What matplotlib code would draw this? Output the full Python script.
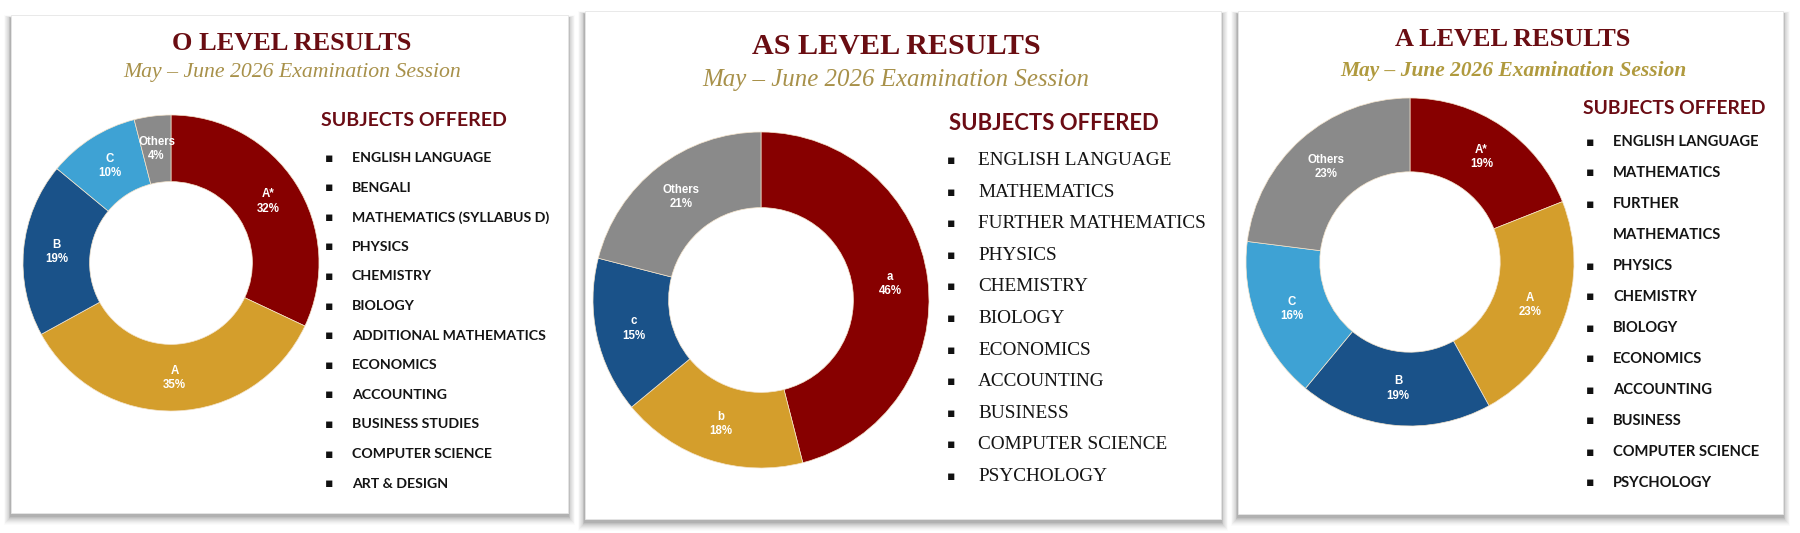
import matplotlib
matplotlib.use("Agg")
import matplotlib.pyplot as plt
from matplotlib.patches import Rectangle

# ---------------- data ----------------
o_grades = ["A*", "A", "B", "C", "Others"]
o_values = [32, 35, 19, 10, 4]
as_grades = ["a", "b", "c", "Others"]
as_values = [46, 18, 15, 21]
a_grades = ["A*", "A", "B", "C", "Others"]
a_values = [19, 23, 19, 16, 23]

o_subjects = ["ENGLISH LANGUAGE", "BENGALI", "MATHEMATICS (SYLLABUS D)", "PHYSICS",
              "CHEMISTRY", "BIOLOGY", "ADDITIONAL MATHEMATICS", "ECONOMICS",
              "ACCOUNTING", "BUSINESS STUDIES", "COMPUTER SCIENCE", "ART & DESIGN"]
as_subjects = ["ENGLISH LANGUAGE", "MATHEMATICS", "FURTHER MATHEMATICS", "PHYSICS",
               "CHEMISTRY", "BIOLOGY", "ECONOMICS", "ACCOUNTING", "BUSINESS",
               "COMPUTER SCIENCE", "PSYCHOLOGY"]
a_subjects = ["ENGLISH LANGUAGE", "MATHEMATICS", "FURTHER\nMATHEMATICS", "PHYSICS",
              "CHEMISTRY", "BIOLOGY", "ECONOMICS", "ACCOUNTING", "BUSINESS",
              "COMPUTER SCIENCE", "PSYCHOLOGY"]

titles = ["O LEVEL RESULTS", "AS LEVEL RESULTS", "A LEVEL RESULTS"]
subtitle = "May \u2013 June 2026 Examination Session"
heading = "SUBJECTS OFFERED"

# ---------------- style ----------------
RED = "#870000"
GOLD = "#d49e2c"
DBLUE = "#1a5289"
LBLUE = "#3ea2d4"
GRAY = "#8a8a8a"
o_colors = [RED, GOLD, DBLUE, LBLUE, GRAY]
as_colors = [RED, GOLD, DBLUE, GRAY]
a_colors = [RED, GOLD, DBLUE, LBLUE, GRAY]
TITLE_C = "#6a0d12"
SUB_C = "#a8914a"
HEAD_C = "#6b0c14"

W, H = 1800, 533
fig = plt.figure(figsize=(W / 100, H / 100), dpi=100)
fig.patch.set_facecolor("white")
bg = fig.add_axes([0, 0, 1, 1])
bg.set_xlim(0, W)
bg.set_ylim(H, 0)
bg.axis("off")
renderer = fig.canvas.get_renderer()


def fit(t, target):
    fs = t.get_fontsize()
    for _ in range(3):
        w = t.get_window_extent(renderer).width
        fs = fs * target / w
        t.set_fontsize(fs)
    return fs


panels = [
    dict(card=(11, 15, 568, 513), center=(171, 263), R=148,
         grades=o_grades, values=o_values, colors=o_colors, subjects=o_subjects,
         title_xy=(292, 44), title_w=239, sub_xy=(292, 73), sub_w=339, sub_bold=False,
         head_xy=(321, 121), head_w=186,
         bullet_x=329, text_x=352, y0=158, step=29.6, item_w=140,
         item_font="Lato", item_weight="bold"),
    dict(card=(585, 11, 1221, 519), center=(761, 300), R=168,
         grades=as_grades, values=as_values, colors=as_colors, subjects=as_subjects,
         title_xy=(896, 46), title_w=289, sub_xy=(896, 80), sub_w=386, sub_bold=False,
         head_xy=(949, 123), head_w=211,
         bullet_x=951, text_x=978, y0=160.5, step=31.6, item_w=193,
         item_font="Liberation Serif", item_weight="normal"),
    dict(card=(1238, 11, 1783, 514), center=(1410, 262), R=164,
         grades=a_grades, values=a_values, colors=a_colors, subjects=a_subjects,
         title_xy=(1513, 40), title_w=235, sub_xy=(1513, 71), sub_w=345, sub_bold=True,
         head_xy=(1583, 108), head_w=182,
         bullet_x=1590, text_x=1613, y0=142, step=31.0, item_w=145,
         item_font="Lato", item_weight="bold"),
]

for i, p in enumerate(panels):
    x0, y0c, x1, y1c = p["card"]
    # soft shadow
    for k, a in zip(range(9, 0, -1), [0.015, 0.02, 0.025, 0.03, 0.035, 0.04, 0.05, 0.06, 0.07]):
        bg.add_patch(Rectangle((x0 - k * 0.8, y0c - k * 0.3 + 3), (x1 - x0) + k * 1.6,
                               (y1c - y0c) + k * 1.3, facecolor="black", edgecolor="none",
                               alpha=a, zorder=1))
    bg.add_patch(Rectangle((x0, y0c), x1 - x0, y1c - y0c, facecolor="white",
                           edgecolor="#e6e6e6", linewidth=0.6, zorder=2))

    # titles
    t = bg.text(*p["title_xy"], titles[i], ha="center", va="center", fontsize=18,
                family="Liberation Serif", weight="bold", color=TITLE_C, zorder=3)
    fit(t, p["title_w"])
    s = bg.text(*p["sub_xy"], subtitle, ha="center", va="center", fontsize=14,
                family="Liberation Serif", style="italic",
                weight="bold" if p["sub_bold"] else "normal",
                color="#b09a3e" if p["sub_bold"] else SUB_C, zorder=3)
    fit(s, p["sub_w"])
    h = bg.text(p["head_xy"][0], p["head_xy"][1], heading, ha="left", va="center",
                fontsize=14, family="Lato", weight="bold", color=HEAD_C, zorder=3)
    fit(h, p["head_w"])

    # subject list
    probe = bg.text(0, 0, p["subjects"][0], fontsize=11, family=p["item_font"],
                    weight=p["item_weight"])
    ifs = fit(probe, p["item_w"])
    probe.remove()
    row = 0
    for subj in p["subjects"]:
        lines = subj.split("\n")
        for j, line in enumerate(lines):
            yy = p["y0"] + row * p["step"]
            if j == 0:
                bg.text(p["bullet_x"], yy, "\u25aa", ha="center", va="center",
                        fontsize=9, family="DejaVu Sans", color="#111111", zorder=3)
            bg.text(p["text_x"], yy, line, ha="left", va="center", fontsize=ifs,
                    family=p["item_font"], weight=p["item_weight"], color="#141414",
                    zorder=3)
            row += 1

    # donut
    cx, cy = p["center"]
    R = p["R"]
    ax = fig.add_axes([(cx - R) / W, 1 - (cy + R) / H, 2 * R / W, 2 * R / H])
    wedges, texts, autotexts = ax.pie(
        p["values"], colors=p["colors"], startangle=90, counterclock=False,
        radius=1.0, autopct="%1.0f%%", pctdistance=0.775,
        wedgeprops=dict(width=0.45, edgecolor="#f4e4cc", linewidth=0.5),
        textprops=dict(color="white", fontsize=8.3, weight="bold",
                       family="Liberation Sans"))
    for at, g, v in zip(autotexts, p["grades"], p["values"]):
        at.set_text(f"{g}\n{v}%")
        at.set_linespacing(1.25)
        at.set_ha("center")
        at.set_va("center")
    ax.set_xlim(-1.0, 1.0)
    ax.set_ylim(-1.0, 1.0)
    ax.set_aspect("equal")
    ax.axis("off")

fig.savefig("out.png", dpi=100, facecolor="white")
